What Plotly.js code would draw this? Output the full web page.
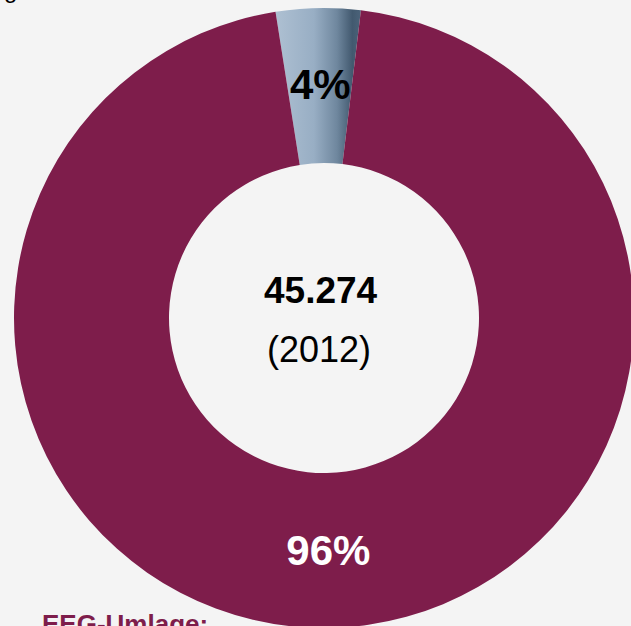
<!DOCTYPE html>
<html>
<head>
<meta charset="utf-8">
<script src="https://cdn.plot.ly/plotly-3.0.1.min.js"></script>
<style>
html,body{margin:0;padding:0;background:#f4f4f4;overflow:hidden;width:631px;height:626px;}
#chart{width:660px;height:640px;}
</style>
</head>
<body>
<div id="chart"></div>
<script>
// Data
var sliceLabels = ['Sonstige', 'EEG-Umlage'];
var sliceValues = [4.4, 95.6];
var sliceTexts = ['4%', '96%'];
var centerValue = '45.274';
var centerYear = '(2012)';
var bottomLabel = 'EEG-Umlage:';

var maroon = '#7e1d4b';
var W = 660, H = 640, ml = 14, mt = 8, mr = 26, mb = 12;
var pw = W - ml - mr, ph = H - mt - mb;
function px2x(x){ return (x - ml) / pw; }
function px2y(y){ return 1 - (y - mt) / ph; }
var fam = 'Liberation Sans, Arial, sans-serif';

var trace = {
  type: 'pie',
  labels: sliceLabels,
  values: sliceValues,
  text: ['', sliceTexts[1]],
  textinfo: 'text',
  textposition: 'inside',
  insidetextorientation: 'horizontal',
  sort: false,
  direction: 'clockwise',
  rotation: -9,
  hole: 0.5,
  marker: {colors: ['#8fa6bc', maroon], line: {width: 0}},
  textfont: {family: fam, size: 42, weight: 'bold', color: ['#000000', '#ffffff']},
  hoverinfo: 'none',
  showlegend: false
};

var layout = {
  width: W, height: H,
  margin: {l: ml, r: mr, t: mt, b: mb},
  paper_bgcolor: '#f4f4f4',
  plot_bgcolor: '#f4f4f4',
  showlegend: false,
  annotations: [
    {text: '<b>' + sliceTexts[0] + '</b>', x: px2x(320.5), y: px2y(85), xref: 'paper', yref: 'paper', xanchor: 'center', yanchor: 'middle', showarrow: false,
     font: {family: fam, size: 42, color: '#000'}},
    {text: '<b>' + centerValue + '</b>', x: px2x(320.5), y: px2y(290.5), xref: 'paper', yref: 'paper', xanchor: 'center', yanchor: 'middle', showarrow: false,
     font: {family: fam, size: 37, color: '#000'}},
    {text: centerYear, x: px2x(318.5), y: px2y(349), xref: 'paper', yref: 'paper', xanchor: 'center', yanchor: 'middle', showarrow: false,
     font: {family: fam, size: 36, color: '#000'}},
    {text: '<b>' + bottomLabel + '</b>', x: px2x(210), y: px2y(607), xref: 'paper', yref: 'paper', xanchor: 'right', yanchor: 'top', showarrow: false,
     font: {family: fam, size: 26, color: maroon}},
    {text: 'g', x: px2x(2), y: px2y(5), xref: 'paper', yref: 'paper', xanchor: 'left', yanchor: 'bottom', showarrow: false,
     font: {family: fam, size: 24, color: '#000'}}
  ]
};

Plotly.newPlot('chart', [trace], layout, {displayModeBar: false, staticPlot: true}).then(function(gd){
  var svg = gd.querySelector('svg.main-svg');
  var ns = 'http://www.w3.org/2000/svg';
  var defs = svg.querySelector('defs') || svg.insertBefore(document.createElementNS(ns, 'defs'), svg.firstChild);
  var lg = document.createElementNS(ns, 'linearGradient');
  lg.setAttribute('id', 'sliceGrad');
  lg.setAttribute('x1', '0'); lg.setAttribute('y1', '0'); lg.setAttribute('x2', '1'); lg.setAttribute('y2', '0');
  [['0', '#aec0d2'], ['0.45', '#98aec4'], ['0.72', '#6f879e'], ['0.9', '#42596f'], ['1', '#4b637a']].forEach(function(s){
    var st = document.createElementNS(ns, 'stop');
    st.setAttribute('offset', s[0]); st.setAttribute('stop-color', s[1]);
    lg.appendChild(st);
  });
  defs.appendChild(lg);
  var paths = gd.querySelectorAll('.slice path.surface');
  if (paths.length) paths[0].style.fill = 'url(#sliceGrad)';
});
</script>
</body>
</html>
